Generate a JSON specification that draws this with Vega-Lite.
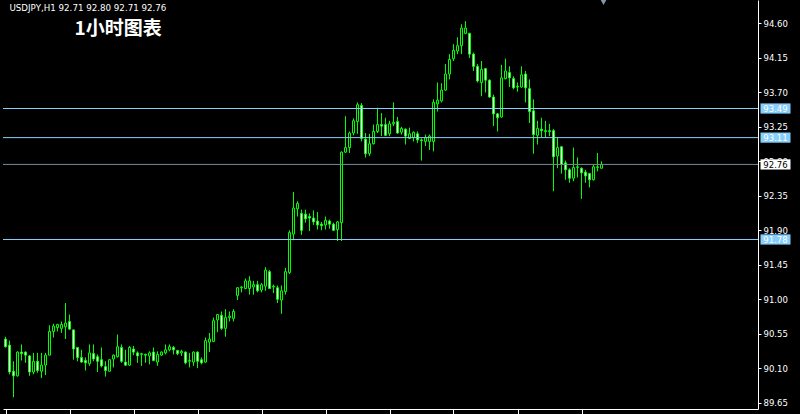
{
  "$schema": "https://vega.github.io/schema/vega-lite/v6.json",
  "width": 755,
  "height": 409,
  "autosize": {"type": "none"},
  "padding": {"left": 3, "top": 0, "right": 42, "bottom": 5},
  "background": "#000000",
  "config": {
    "view": {"stroke": null},
    "axisY": {"labelOverlap": false, "labelFlush": false, "labelBound": false, "tickCount": 30},
    "axisX": {"labelOverlap": false, "tickCount": 30}
  },
  "datasets": {
    "bars": [
      {"t":0,"o":90.48,"h":90.51,"l":90.37,"c":90.38},
      {"t":1,"o":90.40,"h":90.46,"l":90.02,"c":90.05},
      {"t":2,"o":90.06,"h":90.19,"l":89.72,"c":90.00},
      {"t":3,"o":90.00,"h":90.32,"l":89.99,"c":90.31},
      {"t":4,"o":90.31,"h":90.41,"l":90.20,"c":90.29},
      {"t":5,"o":90.31,"h":90.32,"l":90.17,"c":90.27},
      {"t":6,"o":90.26,"h":90.27,"l":90.00,"c":90.05},
      {"t":7,"o":90.05,"h":90.30,"l":90.02,"c":90.19},
      {"t":8,"o":90.19,"h":90.30,"l":90.04,"c":90.07},
      {"t":9,"o":90.06,"h":90.30,"l":89.97,"c":90.14},
      {"t":10,"o":90.14,"h":90.30,"l":90.01,"c":90.27},
      {"t":11,"o":90.27,"h":90.66,"l":90.27,"c":90.58},
      {"t":12,"o":90.58,"h":90.68,"l":90.50,"c":90.65},
      {"t":13,"o":90.63,"h":90.68,"l":90.58,"c":90.67},
      {"t":14,"o":90.62,"h":90.71,"l":90.56,"c":90.67},
      {"t":15,"o":90.64,"h":90.95,"l":90.48,"c":90.69},
      {"t":16,"o":90.71,"h":90.80,"l":90.60,"c":90.61},
      {"t":17,"o":90.60,"h":90.60,"l":90.21,"c":90.35},
      {"t":18,"o":90.37,"h":90.37,"l":90.19,"c":90.24},
      {"t":19,"o":90.24,"h":90.34,"l":90.17,"c":90.18},
      {"t":20,"o":90.20,"h":90.24,"l":90.07,"c":90.17},
      {"t":21,"o":90.16,"h":90.41,"l":90.13,"c":90.30},
      {"t":22,"o":90.29,"h":90.41,"l":90.19,"c":90.22},
      {"t":23,"o":90.25,"h":90.28,"l":90.05,"c":90.19},
      {"t":24,"o":90.21,"h":90.37,"l":90.11,"c":90.13},
      {"t":25,"o":90.12,"h":90.19,"l":89.99,"c":90.07},
      {"t":26,"o":90.06,"h":90.22,"l":90.06,"c":90.21},
      {"t":27,"o":90.22,"h":90.28,"l":90.11,"c":90.27},
      {"t":28,"o":90.25,"h":90.54,"l":90.24,"c":90.38},
      {"t":29,"o":90.37,"h":90.41,"l":90.17,"c":90.19},
      {"t":30,"o":90.18,"h":90.34,"l":90.13,"c":90.14},
      {"t":31,"o":90.14,"h":90.39,"l":90.13,"c":90.37},
      {"t":32,"o":90.35,"h":90.39,"l":90.27,"c":90.31},
      {"t":33,"o":90.30,"h":90.32,"l":90.17,"c":90.26},
      {"t":34,"o":90.28,"h":90.30,"l":90.13,"c":90.29},
      {"t":35,"o":90.28,"h":90.29,"l":90.17,"c":90.27},
      {"t":36,"o":90.26,"h":90.32,"l":90.15,"c":90.30},
      {"t":37,"o":90.31,"h":90.37,"l":90.19,"c":90.20},
      {"t":38,"o":90.18,"h":90.32,"l":90.13,"c":90.28},
      {"t":39,"o":90.27,"h":90.32,"l":90.26,"c":90.31},
      {"t":40,"o":90.30,"h":90.41,"l":90.28,"c":90.34},
      {"t":41,"o":90.34,"h":90.41,"l":90.32,"c":90.38},
      {"t":42,"o":90.37,"h":90.39,"l":90.28,"c":90.34},
      {"t":43,"o":90.33,"h":90.34,"l":90.27,"c":90.29},
      {"t":44,"o":90.30,"h":90.34,"l":90.26,"c":90.32},
      {"t":45,"o":90.31,"h":90.32,"l":90.15,"c":90.17},
      {"t":46,"o":90.19,"h":90.30,"l":90.11,"c":90.20},
      {"t":47,"o":90.18,"h":90.32,"l":90.13,"c":90.31},
      {"t":48,"o":90.31,"h":90.32,"l":90.10,"c":90.19},
      {"t":49,"o":90.21,"h":90.24,"l":90.15,"c":90.17},
      {"t":50,"o":90.18,"h":90.50,"l":90.17,"c":90.46},
      {"t":51,"o":90.44,"h":90.56,"l":90.31,"c":90.48},
      {"t":52,"o":90.45,"h":90.76,"l":90.44,"c":90.72},
      {"t":53,"o":90.73,"h":90.80,"l":90.57,"c":90.80},
      {"t":54,"o":90.79,"h":90.84,"l":90.60,"c":90.62},
      {"t":55,"o":90.62,"h":90.87,"l":90.51,"c":90.76},
      {"t":56,"o":90.76,"h":90.84,"l":90.71,"c":90.78},
      {"t":57,"o":90.75,"h":90.87,"l":90.71,"c":90.84},
      {"t":58,"o":91.05,"h":91.16,"l":90.99,"c":91.15},
      {"t":59,"o":91.15,"h":91.17,"l":91.09,"c":91.16},
      {"t":60,"o":91.14,"h":91.27,"l":91.13,"c":91.24},
      {"t":61,"o":91.14,"h":91.30,"l":91.06,"c":91.24},
      {"t":62,"o":91.16,"h":91.24,"l":91.06,"c":91.19},
      {"t":63,"o":91.19,"h":91.24,"l":91.09,"c":91.11},
      {"t":64,"o":91.12,"h":91.21,"l":91.09,"c":91.19},
      {"t":65,"o":91.17,"h":91.42,"l":91.11,"c":91.38},
      {"t":66,"o":91.36,"h":91.38,"l":91.14,"c":91.14},
      {"t":67,"o":91.16,"h":91.19,"l":91.08,"c":91.17},
      {"t":68,"o":91.15,"h":91.18,"l":90.95,"c":91.00},
      {"t":69,"o":90.99,"h":91.18,"l":90.81,"c":91.11},
      {"t":70,"o":91.10,"h":91.41,"l":91.06,"c":91.36},
      {"t":71,"o":91.35,"h":91.90,"l":91.33,"c":91.87},
      {"t":72,"o":91.85,"h":92.40,"l":91.77,"c":92.19},
      {"t":73,"o":92.18,"h":92.28,"l":92.08,"c":92.25},
      {"t":74,"o":92.12,"h":92.17,"l":91.84,"c":91.90},
      {"t":75,"o":92.11,"h":92.17,"l":92.00,"c":92.05},
      {"t":76,"o":92.08,"h":92.12,"l":91.89,"c":92.06},
      {"t":77,"o":92.06,"h":92.16,"l":91.97,"c":92.01},
      {"t":78,"o":92.02,"h":92.14,"l":91.91,"c":91.97},
      {"t":79,"o":91.98,"h":92.01,"l":91.90,"c":91.96},
      {"t":80,"o":91.97,"h":92.08,"l":91.91,"c":92.03},
      {"t":81,"o":92.02,"h":92.04,"l":91.92,"c":91.98},
      {"t":82,"o":91.98,"h":92.00,"l":91.89,"c":91.90},
      {"t":83,"o":91.91,"h":92.02,"l":91.76,"c":92.01},
      {"t":84,"o":92.00,"h":92.93,"l":91.76,"c":92.92},
      {"t":85,"o":92.92,"h":93.39,"l":92.91,"c":92.98},
      {"t":86,"o":92.98,"h":93.19,"l":92.91,"c":93.17},
      {"t":87,"o":93.17,"h":93.36,"l":93.14,"c":93.33},
      {"t":88,"o":93.32,"h":93.57,"l":93.16,"c":93.54},
      {"t":89,"o":93.53,"h":93.56,"l":93.06,"c":93.10},
      {"t":90,"o":93.09,"h":93.17,"l":92.85,"c":92.90},
      {"t":91,"o":92.90,"h":93.16,"l":92.87,"c":93.03},
      {"t":92,"o":93.03,"h":93.28,"l":93.02,"c":93.19},
      {"t":93,"o":93.19,"h":93.50,"l":93.17,"c":93.28},
      {"t":94,"o":93.28,"h":93.43,"l":93.13,"c":93.26},
      {"t":95,"o":93.28,"h":93.37,"l":93.13,"c":93.14},
      {"t":96,"o":93.16,"h":93.33,"l":93.13,"c":93.29},
      {"t":97,"o":93.29,"h":93.57,"l":93.26,"c":93.31},
      {"t":98,"o":93.32,"h":93.38,"l":93.16,"c":93.17},
      {"t":99,"o":93.18,"h":93.25,"l":93.15,"c":93.23},
      {"t":100,"o":93.22,"h":93.23,"l":93.02,"c":93.13},
      {"t":101,"o":93.10,"h":93.24,"l":93.09,"c":93.16},
      {"t":102,"o":93.11,"h":93.19,"l":93.06,"c":93.18},
      {"t":103,"o":93.16,"h":93.19,"l":93.04,"c":93.08},
      {"t":104,"o":93.08,"h":93.10,"l":92.81,"c":93.07},
      {"t":105,"o":93.06,"h":93.15,"l":93.00,"c":93.11},
      {"t":106,"o":93.06,"h":93.15,"l":92.95,"c":93.13},
      {"t":107,"o":93.06,"h":93.61,"l":92.93,"c":93.57},
      {"t":108,"o":93.55,"h":93.83,"l":93.45,"c":93.60},
      {"t":109,"o":93.59,"h":93.82,"l":93.57,"c":93.73},
      {"t":110,"o":93.73,"h":94.07,"l":93.72,"c":93.94},
      {"t":111,"o":93.94,"h":94.20,"l":93.87,"c":94.13},
      {"t":112,"o":94.14,"h":94.33,"l":94.11,"c":94.25},
      {"t":113,"o":94.24,"h":94.42,"l":94.20,"c":94.31},
      {"t":114,"o":94.31,"h":94.59,"l":94.20,"c":94.54},
      {"t":115,"o":94.47,"h":94.63,"l":94.46,"c":94.54},
      {"t":116,"o":94.47,"h":94.48,"l":94.15,"c":94.20},
      {"t":117,"o":94.20,"h":94.22,"l":93.98,"c":94.04},
      {"t":118,"o":94.04,"h":94.07,"l":93.83,"c":93.85},
      {"t":119,"o":93.83,"h":94.11,"l":93.65,"c":94.00},
      {"t":120,"o":94.01,"h":94.02,"l":93.70,"c":93.86},
      {"t":121,"o":93.86,"h":93.87,"l":93.63,"c":93.64},
      {"t":122,"o":93.64,"h":93.67,"l":93.26,"c":93.42},
      {"t":123,"o":93.42,"h":93.43,"l":93.19,"c":93.37},
      {"t":124,"o":93.38,"h":94.06,"l":93.37,"c":93.89},
      {"t":125,"o":93.88,"h":94.14,"l":93.87,"c":93.98},
      {"t":126,"o":93.96,"h":94.04,"l":93.77,"c":93.89},
      {"t":127,"o":93.88,"h":93.91,"l":93.74,"c":93.76},
      {"t":128,"o":93.78,"h":93.83,"l":93.71,"c":93.77},
      {"t":129,"o":93.77,"h":94.04,"l":93.76,"c":93.93},
      {"t":130,"o":93.94,"h":93.98,"l":93.57,"c":93.76},
      {"t":131,"o":93.75,"h":93.87,"l":93.30,"c":93.45},
      {"t":132,"o":93.46,"h":93.61,"l":92.90,"c":93.15},
      {"t":133,"o":93.14,"h":93.33,"l":93.02,"c":93.23},
      {"t":134,"o":93.22,"h":93.37,"l":93.11,"c":93.20},
      {"t":135,"o":93.20,"h":93.33,"l":93.11,"c":93.19},
      {"t":136,"o":93.20,"h":93.29,"l":93.13,"c":93.19},
      {"t":137,"o":93.20,"h":93.22,"l":92.41,"c":92.86},
      {"t":138,"o":92.87,"h":93.11,"l":92.71,"c":92.98},
      {"t":139,"o":92.99,"h":93.00,"l":92.64,"c":92.76},
      {"t":140,"o":92.78,"h":92.81,"l":92.56,"c":92.69},
      {"t":141,"o":92.69,"h":92.71,"l":92.52,"c":92.58},
      {"t":142,"o":92.58,"h":92.98,"l":92.54,"c":92.72},
      {"t":143,"o":92.72,"h":92.85,"l":92.59,"c":92.73},
      {"t":144,"o":92.71,"h":92.72,"l":92.31,"c":92.65},
      {"t":145,"o":92.66,"h":92.69,"l":92.52,"c":92.61},
      {"t":146,"o":92.64,"h":92.65,"l":92.46,"c":92.56},
      {"t":147,"o":92.56,"h":92.76,"l":92.55,"c":92.73},
      {"t":148,"o":92.72,"h":92.91,"l":92.67,"c":92.73},
      {"t":149,"o":92.71,"h":92.80,"l":92.71,"c":92.76}
    ],
    "lines": [
      {"p": 93.49, "k": "b"},
      {"p": 93.11, "k": "b"},
      {"p": 92.76, "k": "g"},
      {"p": 91.78, "k": "b"}
    ],
    "head": [
      {"s": "USDJPY,H1  92.71 92.80 92.71 92.76"}
    ],
    "name": [
      {"s": "1小时图表"}
    ],
    "shift": [
      {"t": 149.5, "p": 94.89}
    ]
  },
  "layer": [
    {
      "data": {"name": "bars"},
      "mark": {"type": "rule", "color": "#00ff00", "strokeWidth": 1},
      "encoding": {
        "x": {
          "field": "t", "type": "quantitative",
          "scale": {"domain": [-0.625, 188.125], "nice": false, "zero": false, "padding": 0},
          "axis": {
            "orient": "bottom", "values": [0, 16, 32, 48, 64, 80, 96, 112, 128, 144], "tickCount": 30,
            "labels": false, "title": null, "grid": false,
            "domainColor": "#ffffff", "tickColor": "#ffffff", "tickSize": 5, "domainWidth": 1, "tickWidth": 1
          }
        },
        "y": {
          "field": "l", "type": "quantitative",
          "scale": {"domain": [89.5671, 94.9065], "nice": false, "zero": false, "padding": 0},
          "axis": {
            "orient": "right",
            "values": [94.60, 94.15, 93.70, 93.25, 92.80, 92.35, 91.90, 91.45, 91.00, 90.55, 90.10, 89.65],
            "tickCount": 30,
            "format": ".2f", "title": null, "grid": false,
            "labelColor": "#ffffff", "labelFont": "DejaVu Sans", "labelFontSize": 8.5,
            "labelPadding": 2, "labelOverlap": false, "labelFlush": false,
            "domainColor": "#ffffff", "tickColor": "#ffffff", "tickSize": 3
          }
        },
        "y2": {"field": "h"}
      }
    },
    {
      "data": {"name": "bars"},
      "mark": {"type": "bar", "size": 2, "stroke": "#00ff00", "strokeWidth": 1},
      "encoding": {
        "x": {"field": "t", "type": "quantitative"},
        "y": {"field": "o", "type": "quantitative"},
        "y2": {"field": "c"},
        "fill": {"condition": {"test": "datum.c >= datum.o", "value": "#000000"}, "value": "#ffffff"}
      }
    },
    {
      "data": {"name": "lines"},
      "mark": {"type": "rule", "strokeWidth": 1},
      "encoding": {
        "y": {"field": "p", "type": "quantitative"},
        "color": {"condition": {"test": "datum.k == 'g'", "value": "#778899"}, "value": "#87cefa"}
      }
    },
    {
      "mark": {"type": "rule", "color": "#a0a0a0", "strokeWidth": 1},
      "encoding": {"x": {"datum": -0.5}}
    },
    {
      "data": {"name": "lines"},
      "mark": {"type": "point", "shape": "M-1,-0.34H1V0.34H-1Z", "size": 900, "filled": true, "opacity": 1, "strokeWidth": 0},
      "encoding": {
        "x": {"datum": 192.5},
        "y": {"field": "p", "type": "quantitative"},
        "color": {"condition": {"test": "datum.k == 'g'", "value": "#ffffff"}, "value": "#87cefa"}
      }
    },
    {
      "data": {"name": "lines"},
      "mark": {"type": "text", "font": "DejaVu Sans", "fontSize": 8.5, "align": "center", "baseline": "middle", "dy": 0.5},
      "encoding": {
        "x": {"datum": 192.5},
        "y": {"field": "p", "type": "quantitative"},
        "text": {"field": "p", "type": "quantitative", "format": ".2f"},
        "color": {"condition": {"test": "datum.k == 'g'", "value": "#000000"}, "value": "#ffffff"}
      }
    },
    {
      "data": {"name": "head"},
      "mark": {"type": "text", "font": "DejaVu Sans", "fontSize": 8.7, "align": "left", "baseline": "alphabetic", "color": "#ffffff"},
      "encoding": {
        "x": {"datum": 1},
        "y": {"datum": 94.765},
        "text": {"field": "s"}
      }
    },
    {
      "data": {"name": "name"},
      "mark": {"type": "text", "font": "Noto Sans CJK SC", "fontSize": 19, "fontWeight": "bold", "align": "left", "baseline": "alphabetic", "color": "#ffffff"},
      "encoding": {
        "x": {"datum": 17.25},
        "y": {"datum": 94.455},
        "text": {"field": "s"}
      }
    },
    {
      "data": {"name": "shift"},
      "mark": {"type": "point", "shape": "triangle-down", "size": 70, "filled": true, "opacity": 1, "color": "#8596ad"},
      "encoding": {
        "x": {"field": "t", "type": "quantitative"},
        "y": {"field": "p", "type": "quantitative"}
      }
    }
  ]
}
